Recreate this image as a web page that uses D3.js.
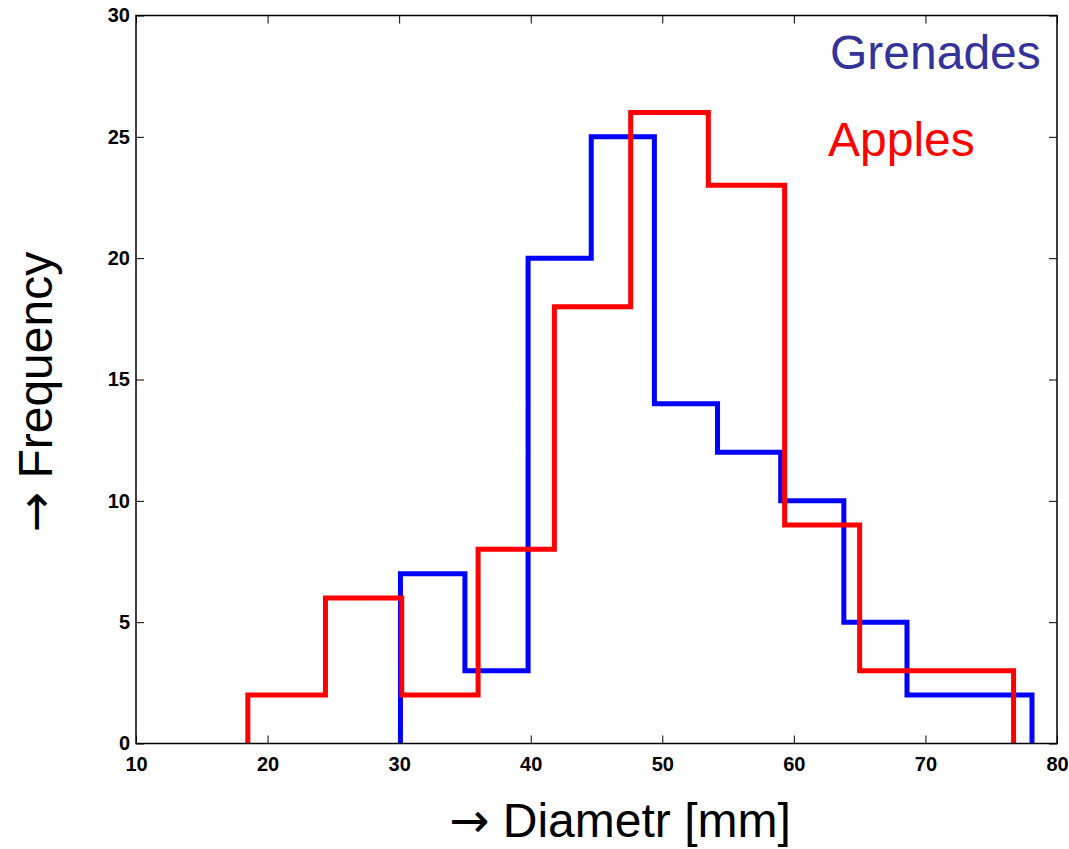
<!DOCTYPE html>
<html>
<head>
<meta charset="utf-8">
<script src="https://cdn.jsdelivr.net/npm/d3@7"></script>
<style>
  body { margin: 0; background: #fff; }
  svg { display: block; }
</style>
</head>
<body>
<script>
// histogram bin edges and counts
var grenadeEdges = [30.1, 35.0, 39.8, 44.6, 49.4, 54.2, 59.0, 63.8, 68.6, 73.4, 78.1];
var grenadeCounts = [7, 3, 20, 25, 14, 12, 10, 5, 2, 2];
var appleEdges = [18.5, 24.4, 30.2, 36.0, 41.8, 47.6, 53.5, 59.3, 65.0, 70.9, 76.7];
var appleCounts = [2, 6, 2, 8, 18, 26, 23, 9, 3, 3];
var xTicks = [10, 20, 30, 40, 50, 60, 70, 80];
var yTicks = [0, 5, 10, 15, 20, 25, 30];

var margin = {top: 15.5, right: 12, bottom: 105.5, left: 136},
    width = 1069 - margin.left - margin.right,
    height = 849 - margin.top - margin.bottom;

var svg = d3.select("body").append("svg")
    .attr("width", 1069)
    .attr("height", 849);

var g = svg.append("g")
    .attr("transform", "translate(" + margin.left + "," + margin.top + ")");

var x = d3.scaleLinear().domain([10, 80]).range([0, width]);
var y = d3.scaleLinear().domain([0, 30]).range([height, 0]);

// turn edges + counts into step points
function steps(edges, counts) {
  var pts = [[edges[0], 0]];
  counts.forEach(function(c, i) { pts.push([edges[i], c]); });
  pts.push([edges[edges.length - 1], 0]);
  return pts;
}

var line = d3.line()
    .x(function(d) { return x(d[0]); })
    .y(function(d) { return y(d[1]); })
    .curve(d3.curveStepAfter);

g.append("path")
    .datum(steps(grenadeEdges, grenadeCounts))
    .attr("d", line)
    .attr("fill", "none")
    .attr("stroke", "#0000ff")
    .attr("stroke-width", 5);

g.append("path")
    .datum(steps(appleEdges, appleCounts))
    .attr("d", line)
    .attr("fill", "none")
    .attr("stroke", "#ff0000")
    .attr("stroke-width", 5);

// axes, ticks pointing inward
function styleAxis(sel) {
  sel.select(".domain").remove();
  sel.selectAll("line").attr("stroke", "#000").attr("stroke-width", 1);
  sel.selectAll("text")
      .attr("fill", "#000")
      .style("font-family", "'Liberation Sans', Arial, sans-serif")
      .style("font-weight", "bold")
      .style("font-size", "20px");
}

g.append("g")
    .attr("transform", "translate(0," + height + ")")
    .call(d3.axisBottom(x).tickValues(xTicks).tickSizeInner(-8).tickSizeOuter(0).tickPadding(13))
    .call(styleAxis);

g.append("g")
    .call(d3.axisLeft(y).tickValues(yTicks).tickSizeInner(-8).tickSizeOuter(0).tickPadding(6))
    .call(styleAxis);

g.append("g")
    .call(d3.axisTop(x).tickValues(xTicks).tickSizeInner(-8).tickSizeOuter(0).tickFormat(""))
    .call(styleAxis);

g.append("g")
    .attr("transform", "translate(" + width + ",0)")
    .call(d3.axisRight(y).tickValues(yTicks).tickSizeInner(-8).tickSizeOuter(0).tickFormat(""))
    .call(styleAxis);

// frame
g.append("rect")
    .attr("width", width)
    .attr("height", height)
    .attr("fill", "none")
    .attr("stroke", "#000")
    .attr("stroke-width", 1.5);

// legend text
var font = "'Liberation Sans', Arial, sans-serif";
g.append("text")
    .attr("x", 830 - margin.left)
    .attr("y", 69 - margin.top)
    .attr("fill", "#333399")
    .style("font-family", font)
    .style("font-size", "48px")
    .text("Grenades");

g.append("text")
    .attr("x", 828 - margin.left)
    .attr("y", 156 - margin.top)
    .attr("fill", "#ff0000")
    .style("font-family", font)
    .style("font-size", "48px")
    .text("Apples");

// axis labels, arrow from a font with a bigger arrow head
function axisLabel(sel, label) {
  sel.attr("text-anchor", "middle")
      .style("font-family", font)
      .style("font-size", "48px");
  sel.append("tspan")
      .style("font-family", "'DejaVu Sans'")
      .text("\u2192");
  sel.append("tspan").text(" " + label);
}

svg.append("text")
    .attr("x", 620)
    .attr("y", 837)
    .call(axisLabel, "Diametr [mm]");

svg.append("text")
    .attr("transform", "translate(52,392) rotate(-90)")
    .call(axisLabel, "Frequency");
</script>
</body>
</html>
